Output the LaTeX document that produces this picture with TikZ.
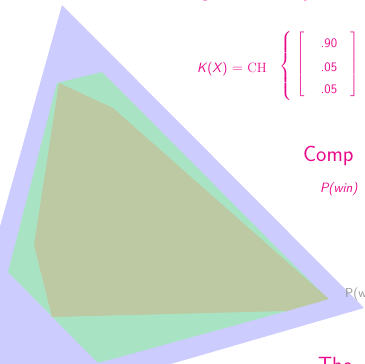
\documentclass[tikz,border=0pt]{standalone}
\usepackage{fontspec}
\usepackage{amsmath}
\definecolor{blueregion}{RGB}{204,204,255}
\definecolor{greenregion}{RGB}{168,228,196}
\definecolor{oliveregion}{RGB}{188,201,162}
\definecolor{pinktext}{RGB}{233,10,140}
\definecolor{graytext}{RGB}{150,150,150}
\begin{document}
\begin{tikzpicture}[x=1pt,y=-1pt,
  pinklabel/.style={text=pinktext,inner sep=0pt,outer sep=0pt,font=\sffamily},
  delim/.style={text=pinktext,inner sep=0pt,outer sep=0pt}]
\useasboundingbox (0,0) rectangle (365,364);
\begin{scope}
\clip (0,0) rectangle (365,364);
\fill[blueregion] (62,5) -- (364,308) -- (-57,430) -- cycle;
\fill[greenregion] (57,83) -- (102,72) -- (325,296) -- (287,311) -- (98,363) -- (8,272) -- cycle;
\fill[oliveregion] (59,83) -- (113,108) -- (329,299) -- (287,311) -- (52,317) -- (34,245) -- cycle;
\node[pinklabel,anchor=base west,font=\sffamily\fontsize{22}{26}\selectfont] (topg) at (200,-4) {g};
\node[pinklabel,anchor=base west,font=\sffamily\fontsize{22}{26}\selectfont] (topy) at (303,-4) {y};
\node[pinklabel,anchor=base west,font=\sffamily\fontsize{22}{26}\selectfont] (comp) at (303,161) {Comp};
\node[pinklabel,anchor=base west,font=\sffamily\itshape\fontsize{13.5}{16}\selectfont] (pwin) at (320,192) {P(win)};
\node[pinklabel,anchor=base west,font=\sffamily\fontsize{22}{26}\selectfont] (the) at (318,372) {The};
\node[text=graytext,inner sep=0pt,anchor=base west,font=\sffamily\fontsize{13}{15}\selectfont] (pw) at (345,297) {P(w};
\end{scope}
\node[pinklabel,anchor=base west,font=\fontsize{13.5}{16}\selectfont] (kx) at (197,72)
  {\textsf{\itshape K}\textsf{(}\textsf{\itshape X}\textsf{)} $=$ CH};
\node[delim] (brace) at (286,66) {\fontsize{14}{17}\selectfont$\left\{\vrule height 31pt depth 31pt width 0pt\right.$};
\node[delim] (lbrack) at (301,65) {\fontsize{12}{14}\selectfont$\left[\vrule height 31pt depth 31pt width 0pt\right.$};
\node[delim] (rbrack) at (355,65) {\fontsize{12}{14}\selectfont$\left]\vrule height 31pt depth 31pt width 0pt\right.$};
\node[pinklabel,anchor=base,font=\sffamily\fontsize{13}{15}\selectfont] (va) at (329,48) {.90};
\node[pinklabel,anchor=base,font=\sffamily\fontsize{13}{15}\selectfont] (vb) at (329,71) {.05};
\node[pinklabel,anchor=base,font=\sffamily\fontsize{13}{15}\selectfont] (vc) at (329,93) {.05};
\end{tikzpicture}
\end{document}
